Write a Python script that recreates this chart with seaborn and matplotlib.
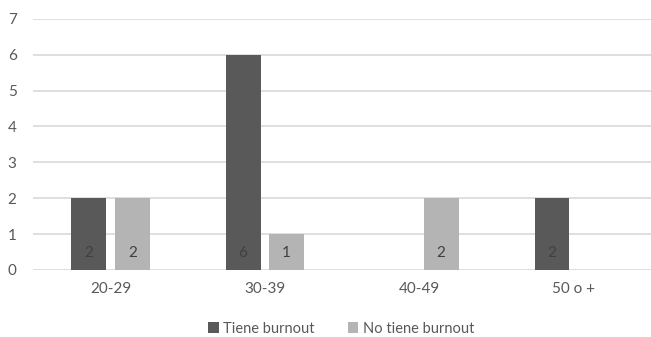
import matplotlib
matplotlib.use('Agg')
import matplotlib.pyplot as plt
import pandas as pd
import seaborn as sns

categorias = ['20-29', '30-39', '40-49', '50 o +']
tiene_burnout = [2, 6, 0, 2]
no_tiene_burnout = [2, 1, 2, 0]
series = ['Tiene burnout', 'No tiene burnout']
colores = ['#595959', '#b4b4b4']

data = pd.DataFrame({
    'edad': categorias * 2,
    'valor': tiene_burnout + no_tiene_burnout,
    'grupo': [series[0]] * 4 + [series[1]] * 4,
})

sns.set_style('white')
plt.rcParams['font.family'] = ['Lato', 'DejaVu Sans']

fig = plt.figure(figsize=(6.51, 3.37), dpi=100)
ax = fig.add_axes([0.051, 0.199, 0.949, 0.745])

sns.barplot(data=data, x='edad', y='valor', hue='grupo', palette=colores,
            width=0.565, gap=0.2, ax=ax, legend=True, saturation=1, linewidth=0)

ax.set_ylim(0, 7)
ax.set_yticks(range(0, 8))
ax.set_xlim(-0.5, 3.5)
ax.yaxis.grid(True, color='#d9d9d9', linewidth=1.2)
ax.set_axisbelow(True)
for s in ax.spines.values():
    s.set_visible(False)
ax.tick_params(axis='x', length=0, labelsize=11, colors='#595959', pad=9)
ax.tick_params(axis='y', length=0, labelsize=11, colors='#595959', pad=12)
ax.set_xlabel('')
ax.set_ylabel('')

# etiquetas de valor dentro de la base de cada barra
for bar in ax.patches:
    h = bar.get_height()
    if h and h > 0:
        ax.text(bar.get_x() + bar.get_width() / 2, 0.47, f'{int(h)}',
                ha='center', va='center', fontsize=11, color='#404040')

handles, labels = ax.get_legend_handles_labels()
ax.get_legend().remove()
fig.legend(handles, labels, loc='center', bbox_to_anchor=(0.524, 0.025), ncol=2,
           frameon=False, fontsize=10.5, handlelength=0.7, handleheight=0.7,
           handletextpad=0.3, columnspacing=2.3, labelcolor='#595959')

fig.savefig('out.png', dpi=100)
